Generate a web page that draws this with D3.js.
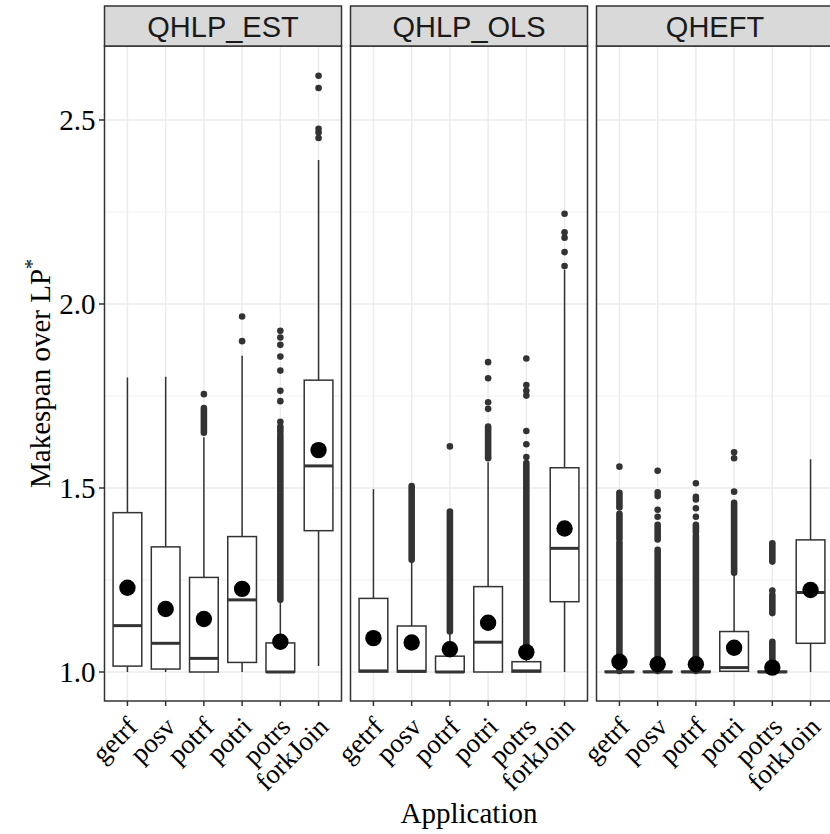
<!DOCTYPE html>
<html>
<head>
<meta charset="utf-8">
<script src="https://cdn.jsdelivr.net/npm/d3@7"></script>
<style>
body { margin: 0; background: #fff; }
text { font-family: "Liberation Serif", "Times New Roman", serif; fill: #000; }
.strip text { font-family: "Liberation Sans", Arial, sans-serif; fill: #1a1a1a; }
</style>
</head>
<body>
<svg width="830" height="834"></svg>
<script>
// data (one row per method, one value per application)

var methods = ["QHLP_EST", "QHLP_OLS", "QHEFT"];
var apps = ["getrf", "posv", "potrf", "potri", "potrs", "forkJoin"];
var yTicks = [1.0, 1.5, 2.0, 2.5];
var yMinor = [1.25, 1.75, 2.25];

var whiskLo = [
  [1.0, 1.0, 1.0, 1.0, 1.0, 1.016],
  [1.0, 1.0, 1.0, 1.0, 1.0, 1.0],
  [1.0, 1.0, 1.0, 1.0, 1.0, 1.0]
];
var q1 = [
  [1.016, 1.008, 1.0, 1.026, 1.0, 1.384],
  [1.0, 1.0, 1.0, 1.0, 1.0, 1.191],
  [1.0, 1.0, 1.0, 1.002, 1.0, 1.078]
];
var medians = [
  [1.126, 1.078, 1.037, 1.196, 1.0, 1.560],
  [1.003, 1.002, 1.0, 1.081, 1.003, 1.336],
  [1.0, 1.0, 1.0, 1.012, 1.0, 1.216]
];
var q3 = [
  [1.433, 1.340, 1.257, 1.368, 1.079, 1.793],
  [1.200, 1.125, 1.043, 1.232, 1.028, 1.555],
  [1.002, 1.002, 1.002, 1.110, 1.002, 1.359]
];
var whiskHi = [
  [1.800, 1.802, 1.638, 1.859, 1.196, 2.391],
  [1.497, 1.305, 1.106, 1.570, 1.068, 2.092],
  [1.003, 1.003, 1.003, 1.264, 1.003, 1.578]
];
var means = [
  [1.229, 1.171, 1.144, 1.226, 1.082, 1.603],
  [1.092, 1.080, 1.062, 1.134, 1.054, 1.390],
  [1.028, 1.021, 1.021, 1.066, 1.012, 1.223]
];

// single outliers: [method, app, value]
var outliers = [
  [0, 2, 1.755],
  [0, 3, 1.899], [0, 3, 1.966],
  [0, 4, 1.680], [0, 4, 1.736], [0, 4, 1.764], [0, 4, 1.819], [0, 4, 1.857],
  [0, 4, 1.889], [0, 4, 1.909], [0, 4, 1.927],
  [0, 5, 2.451], [0, 5, 2.466], [0, 5, 2.476], [0, 5, 2.587], [0, 5, 2.620],
  [1, 2, 1.613],
  [1, 3, 1.581], [1, 3, 1.715], [1, 3, 1.733], [1, 3, 1.798], [1, 3, 1.842],
  [1, 4, 1.584], [1, 4, 1.619], [1, 4, 1.655], [1, 4, 1.751], [1, 4, 1.764],
  [1, 4, 1.780], [1, 4, 1.852],
  [1, 5, 2.103], [1, 5, 2.141], [1, 5, 2.180], [1, 5, 2.195], [1, 5, 2.245],
  [2, 0, 1.558],
  [2, 1, 1.422], [2, 1, 1.441], [2, 1, 1.478], [2, 1, 1.488], [2, 1, 1.547],
  [2, 2, 1.422], [2, 2, 1.445], [2, 2, 1.469], [2, 2, 1.476], [2, 2, 1.513],
  [2, 3, 1.490], [2, 3, 1.581], [2, 3, 1.597],
  [2, 4, 1.221]
];

// stretches where the outlier dots overlap into a solid column: [method, app, from, to]
var outlierRuns = [
  [0, 2, 1.650, 1.717],
  [0, 4, 1.196, 1.644], [0, 4, 1.653, 1.667],
  [1, 1, 1.305, 1.505],
  [1, 2, 1.110, 1.436],
  [1, 3, 1.585, 1.667],
  [1, 4, 1.070, 1.568],
  [2, 0, 1.003, 1.352], [2, 0, 1.362, 1.430], [2, 0, 1.447, 1.487],
  [2, 1, 1.003, 1.332], [2, 1, 1.360, 1.400],
  [2, 2, 1.003, 1.370], [2, 2, 1.380, 1.400],
  [2, 3, 1.270, 1.460],
  [2, 4, 1.003, 1.082], [2, 4, 1.160, 1.209], [2, 4, 1.300, 1.350]
];

var svg = d3.select("svg");

var plotTop = 46, plotBottom = 701,
    plotLeft = 104.5, panelW = 237, panelGap = 9,
    boxW = 28.7, outR = 3.3, meanR = 8.2;

var y = d3.scaleLinear().domain([0.9212, 2.701]).range([plotBottom, plotTop]);
var x = d3.scalePoint().domain(apps).range([0, panelW]).padding(0.6);

var panels = svg.selectAll(".panel")
  .data(methods)
  .enter().append("g")
    .attr("class", "panel")
    .attr("transform", function(d, i) { return "translate(" + (plotLeft + i * (panelW + panelGap)) + ",0)"; });

panels.append("rect")
    .attr("y", plotTop).attr("width", panelW).attr("height", plotBottom - plotTop)
    .attr("fill", "#fff");

panels.each(function(m, mi) {
  var g = d3.select(this);

  // grid
  g.selectAll(".minor").data(yMinor).enter().append("line")
      .attr("x1", 0).attr("x2", panelW)
      .attr("y1", function(d) { return y(d); }).attr("y2", function(d) { return y(d); })
      .attr("stroke", "#ebebeb").attr("stroke-width", 0.8);
  g.selectAll(".major").data(yTicks).enter().append("line")
      .attr("x1", 0).attr("x2", panelW)
      .attr("y1", function(d) { return y(d); }).attr("y2", function(d) { return y(d); })
      .attr("stroke", "#ebebeb").attr("stroke-width", 1.5);
  g.selectAll(".vgrid").data(apps).enter().append("line")
      .attr("x1", function(d) { return x(d); }).attr("x2", function(d) { return x(d); })
      .attr("y1", plotTop).attr("y2", plotBottom)
      .attr("stroke", "#ebebeb").attr("stroke-width", 1.5);

  // whiskers
  g.selectAll(".whisk").data(apps).enter().append("line")
      .attr("x1", function(d) { return x(d); }).attr("x2", function(d) { return x(d); })
      .attr("y1", function(d, i) { return y(whiskLo[mi][i]); })
      .attr("y2", function(d, i) { return y(whiskHi[mi][i]); })
      .attr("stroke", "#333").attr("stroke-width", 1.5);

  // boxes
  g.selectAll(".box").data(apps).enter().append("rect")
      .attr("x", function(d) { return x(d) - boxW / 2; })
      .attr("width", boxW)
      .attr("y", function(d, i) { return y(q3[mi][i]); })
      .attr("height", function(d, i) { return y(q1[mi][i]) - y(q3[mi][i]); })
      .attr("fill", "#fff").attr("stroke", "#333").attr("stroke-width", 1.5);

  g.selectAll(".median").data(apps).enter().append("line")
      .attr("x1", function(d) { return x(d) - boxW / 2; })
      .attr("x2", function(d) { return x(d) + boxW / 2; })
      .attr("y1", function(d, i) { return y(medians[mi][i]); })
      .attr("y2", function(d, i) { return y(medians[mi][i]); })
      .attr("stroke", "#333").attr("stroke-width", 3);

  // outliers
  g.selectAll(".run").data(outlierRuns.filter(function(r) { return r[0] == mi; }))
    .enter().append("line")
      .attr("x1", function(d) { return x(apps[d[1]]); }).attr("x2", function(d) { return x(apps[d[1]]); })
      .attr("y1", function(d) { return y(d[2]); }).attr("y2", function(d) { return y(d[3]); })
      .attr("stroke", "#333").attr("stroke-width", outR * 2).attr("stroke-linecap", "round");

  g.selectAll(".out").data(outliers.filter(function(o) { return o[0] == mi; }))
    .enter().append("circle")
      .attr("cx", function(d) { return x(apps[d[1]]); })
      .attr("cy", function(d) { return y(d[2]); })
      .attr("r", outR)
      .attr("fill", "#333");

  // means
  g.selectAll(".mean").data(apps).enter().append("circle")
      .attr("cx", function(d) { return x(d); })
      .attr("cy", function(d, i) { return y(means[mi][i]); })
      .attr("r", meanR)
      .attr("fill", "#000");

  // x ticks and labels
  g.selectAll(".xtick").data(apps).enter().append("line")
      .attr("x1", function(d) { return x(d); }).attr("x2", function(d) { return x(d); })
      .attr("y1", plotBottom).attr("y2", plotBottom + 5)
      .attr("stroke", "#333").attr("stroke-width", 1.5);
  g.selectAll(".xlab").data(apps).enter().append("text")
      .attr("transform", function(d) { return "translate(" + (x(d) + 11.5) + "," + (plotBottom + 27.5) + ") rotate(-45)"; })
      .attr("text-anchor", "end")
      .attr("font-size", 27)
      .text(function(d) { return d; });
});

panels.append("rect")
    .attr("y", plotTop).attr("width", panelW).attr("height", plotBottom - plotTop)
    .attr("fill", "none").attr("stroke", "#333").attr("stroke-width", 1.5);

// strips
var strips = panels.append("g").attr("class", "strip");
strips.append("rect")
    .attr("y", 6).attr("width", panelW).attr("height", plotTop - 6)
    .attr("fill", "#d9d9d9").attr("stroke", "#333").attr("stroke-width", 1.5);
strips.append("text")
    .attr("x", panelW / 2).attr("y", 37.3)
    .attr("text-anchor", "middle")
    .attr("font-size", 29)
    .text(function(d) { return d; });

// y axis
var yAxis = svg.append("g");
yAxis.selectAll("line").data(yTicks).enter().append("line")
    .attr("x1", plotLeft - 5.5).attr("x2", plotLeft)
    .attr("y1", function(d) { return y(d); }).attr("y2", function(d) { return y(d); })
    .attr("stroke", "#333").attr("stroke-width", 1.5);
yAxis.selectAll("text").data(yTicks).enter().append("text")
    .attr("x", plotLeft - 9).attr("y", function(d) { return y(d); })
    .attr("dy", "0.35em")
    .attr("text-anchor", "end")
    .attr("font-size", 29)
    .text(function(d) { return d3.format(".1f")(d); });

// titles
var yTitle = svg.append("text")
    .attr("transform", "translate(50," + ((plotTop + plotBottom) / 2) + ") rotate(-90)")
    .attr("text-anchor", "middle")
    .attr("font-size", 29);
yTitle.append("tspan").text("Makespan over LP");
yTitle.append("tspan").attr("baseline-shift", "super").attr("font-size", 20).text("*");

svg.append("text")
    .attr("x", plotLeft + (3 * panelW + 2 * panelGap) / 2).attr("y", 823)
    .attr("text-anchor", "middle")
    .attr("font-size", 29)
    .text("Application");
</script>
</body>
</html>
